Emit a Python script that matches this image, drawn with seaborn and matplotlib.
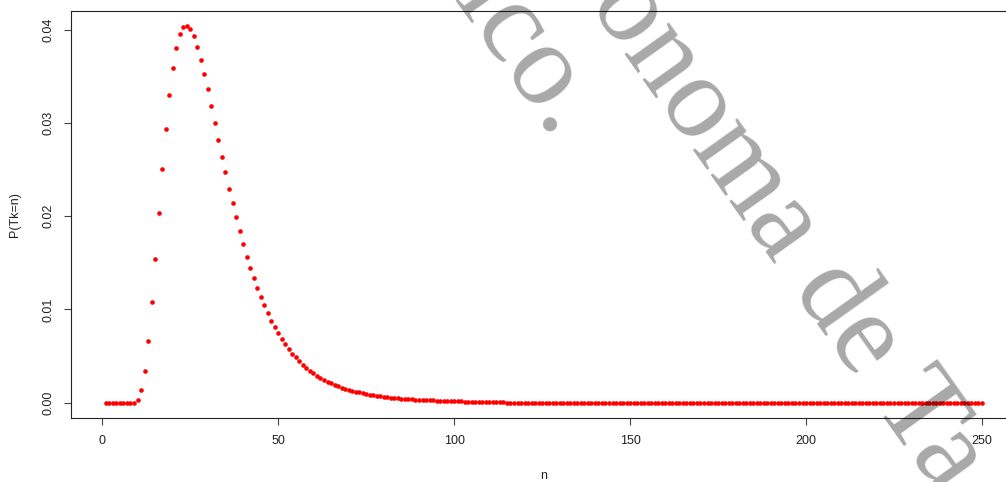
import matplotlib
matplotlib.use("Agg")
import matplotlib.pyplot as plt
import numpy as np
import pandas as pd
import seaborn as sns

# ---- data ----
n_values = list(range(1, 251))

p_head = [0, 0, 0, 0, 0, 0, 0, 0, 0]  # n = 1..9
p_body = [
    0.0003, 0.00136, 0.00343, 0.00665, 0.01077, 0.01539, 0.02032, 0.02508, 0.02933, 0.03298,  # 10-19
    0.03588, 0.03809, 0.03953, 0.04028, 0.04045, 0.04006, 0.03934, 0.03816, 0.0368, 0.03523,  # 20-29
    0.03363, 0.0318, 0.02998, 0.02815, 0.0264, 0.02472, 0.02296, 0.0214, 0.01989, 0.01842,    # 30-39
    0.01703, 0.01567, 0.01449, 0.01338, 0.01231, 0.01137, 0.01048, 0.00966, 0.0088, 0.00809,  # 40-49
    0.00745, 0.0068, 0.00627, 0.00579, 0.00526, 0.00487, 0.00447, 0.00405, 0.00369, 0.00343,  # 50-59
    0.00315, 0.00286, 0.00262, 0.00244, 0.00225, 0.00208, 0.0019, 0.00175, 0.0016, 0.00148,   # 60-69
    0.00137, 0.00127, 0.00118, 0.00109, 0.00101, 0.00094, 0.00087, 0.00081, 0.00075, 0.0007,  # 70-79
    0.00065, 0.0006, 0.00055, 0.00051, 0.00047, 0.00044, 0.00041, 0.00038, 0.00035, 0.00033,  # 80-89
    0.00031, 0.00029, 0.00027, 0.00025, 0.00023, 0.00021, 0.0002, 0.00018, 0.00017, 0.00016,  # 90-99
    0.00015, 0.00014, 0.00013, 0.00012, 0.00012, 0.00011, 0.0001, 0.0001, 0.0001, 0.0001,     # 100-109
    0.0001, 0.0001, 0.0001, 0.0001, 0.0001,                                                   # 110-114
]
p_tail = [  # n = 115..250
    0, 0, 0, 0, 0, 0, 0, 0, 0, 0, 0, 0, 0, 0, 0, 0, 0, 0, 0, 0,
    0, 0, 0, 0, 0, 0, 0, 0, 0, 0, 0, 0, 0, 0, 0, 0, 0, 0, 0, 0,
    0, 0, 0, 0, 0, 0, 0, 0, 0, 0, 0, 0, 0, 0, 0, 0, 0, 0, 0, 0,
    0, 0, 0, 0, 0, 0, 0, 0, 0, 0, 0, 0, 0, 0, 0, 0, 0, 0, 0, 0,
    0, 0, 0, 0, 0, 0, 0, 0, 0, 0, 0, 0, 0, 0, 0, 0, 0, 0, 0, 0,
    0, 0, 0, 0, 0, 0, 0, 0, 0, 0, 0, 0, 0, 0, 0, 0, 0, 0, 0, 0,
    0, 0, 0, 0, 0, 0, 0, 0, 0, 0, 0, 0, 0, 0, 0, 0,
]
p_values = p_head + p_body + p_tail

x_ticks = [0, 50, 100, 150, 200, 250]
x_tick_labels = ["0", "50", "100", "150", "200", "250"]
y_ticks = [0.0, 0.01, 0.02, 0.03, 0.04]
y_tick_labels = ["0.00", "0.01", "0.02", "0.03", "0.04"]
x_label = "n"
y_label = "P(Tk=n)"
watermark_a = "onoma de Ta"
watermark_b = "lco."

# ---- style ----
sns.set_theme(style="white")
plt.rcParams["font.family"] = ["Liberation Sans", "DejaVu Sans"]

W, H = 1006, 482
fig = plt.figure(figsize=(W / 100, H / 100), dpi=100)
fig.patch.set_facecolor("white")

left_px, right_px, top_px, bottom_px = 70.8, 1017.0, 10.7, 417.7
ax = fig.add_axes([left_px / W, 1 - bottom_px / H, (right_px - left_px) / W, (bottom_px - top_px) / H])
ax.set_facecolor("white")

df = pd.DataFrame({"n": n_values, "p": p_values})
sns.scatterplot(data=df, x="n", y="p", ax=ax, color="#FF0000", s=11, linewidth=0, legend=False)

xr = max(n_values) - min(n_values)
ax.set_xlim(min(n_values) - 0.04 * xr, max(n_values) + 0.04 * xr)
yr = max(p_values) - min(p_values)
ax.set_ylim(min(p_values) - 0.04 * yr, max(p_values) + 0.04 * yr)

ax.set_xticks(x_ticks)
ax.set_xticklabels(x_tick_labels)
ax.set_yticks(y_ticks)
ax.set_yticklabels(y_tick_labels, rotation=90, va="center")

for sp in ax.spines.values():
    sp.set_visible(True)
    sp.set_color("#222222")
    sp.set_linewidth(0.8)

ax.tick_params(axis="both", direction="out", length=5, width=0.8, color="#444444",
               labelsize=9, labelcolor="#222222")
ax.tick_params(axis="x", pad=7.5)
ax.tick_params(axis="y", pad=6.5)
ax.tick_params(left=True, bottom=True)

ax.set_xlabel(x_label, fontsize=9, color="#222222")
ax.set_ylabel(y_label, fontsize=9, color="#222222")
ax.xaxis.label.set_va("center")
ax.yaxis.label.set_va("center")
ax.xaxis.set_label_coords(0.5, -(476 - bottom_px) / (bottom_px - top_px))
ax.yaxis.set_label_coords(-(left_px - 15) / (right_px - left_px), 0.5)

# ---- watermark ----
wm = dict(rotation=-54.5, rotation_mode="anchor", va="baseline", fontsize=85,
          family="Liberation Serif", color="black", alpha=0.34, zorder=20)
fig.text(587.6 / W, 1 - 3.7 / H, watermark_a, ha="left", **wm)
fig.text(552.8 / W, 1 - 141.4 / H, watermark_b, ha="right", **wm)

fig.savefig("out.png", dpi=100)
